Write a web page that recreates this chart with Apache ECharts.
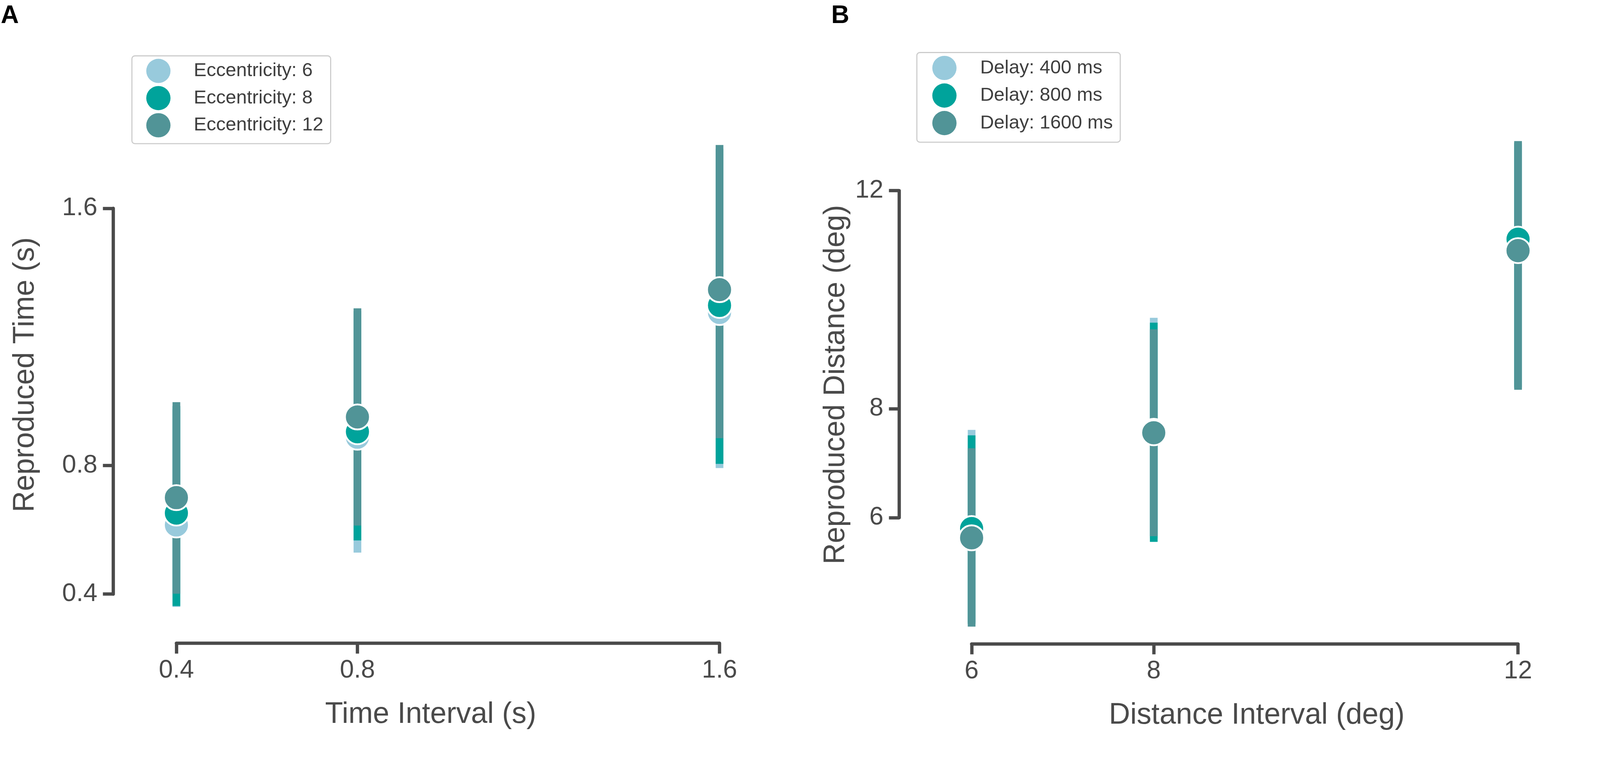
<!DOCTYPE html>
<html>
<head>
<meta charset="utf-8">
<script src="https://cdn.jsdelivr.net/npm/echarts@6/dist/echarts.min.js"></script>
<style>
html,body{margin:0;padding:0;background:#fff;overflow:hidden;}
#chart{width:100vw;height:100vh;}
</style>
</head>
<body>
<div id="chart"></div>
<script>
// ---------- Panel A data ----------
const timeIntervals = [0.4, 0.8, 1.6];
const timeTicks = [0.4, 0.8, 1.6];
const eccLabels = ['Eccentricity: 6', 'Eccentricity: 8', 'Eccentricity: 12'];
const timeMeanE6  = [0.615, 0.888, 1.276];
const timeMeanE8  = [0.652, 0.905, 1.298];
const timeMeanE12 = [0.700, 0.951, 1.347];
const timeLowE6   = [0.360, 0.529, 0.792];
const timeHighE6  = [0.975, 1.270, 1.770];
const timeLowE8   = [0.363, 0.567, 0.805];
const timeHighE8  = [0.985, 1.280, 1.785];
const timeLowE12  = [0.401, 0.613, 0.885];
const timeHighE12 = [0.997, 1.289, 1.797];

// ---------- Panel B data ----------
const distIntervals = [6, 8, 12];
const distTicks = [6, 8, 12];
const distYTicks = [6, 8, 12];
const delayLabels = ['Delay: 400 ms', 'Delay: 800 ms', 'Delay: 1600 ms'];
const distMeanD400  = [5.72, 7.570, 11.00];
const distMeanD800  = [5.80, 7.585, 11.11];
const distMeanD1600 = [5.63, 7.558, 10.90];
const distLowD400   = [4.08, 5.620, 8.40];
const distHighD400  = [7.61, 9.668, 12.85];
const distLowD800   = [4.05, 5.555, 8.38];
const distHighD800  = [7.51, 9.577, 12.88];
const distLowD1600  = [4.00, 5.660, 8.347];
const distHighD1600 = [7.274, 9.456, 12.91];

const colors = ['#98cadc', '#00a39b', '#519497'];
const FONT = '"Liberation Sans", Arial, Helvetica, sans-serif';
const AXIS_COLOR = '#4a4a4a';

// layout designed for a 4354 x 1987 canvas; scale to the real viewport
const S = Math.min(window.innerWidth / 4354, window.innerHeight / 1987);
const px = v => v * S;
const pad = a => a.map(px);

function errSeries(name, gridIdx, xs, lo, hi, color) {
  return {
    type: 'custom', name: name, xAxisIndex: gridIdx, yAxisIndex: gridIdx,
    z: 2, silent: true,
    data: xs.map((x, i) => [x, lo[i], hi[i]]),
    encode: { x: 0, y: [1, 2] },
    renderItem: function (params, api) {
      const x = api.value(0);
      const p1 = api.coord([x, api.value(1)]);
      const p2 = api.coord([x, api.value(2)]);
      return {
        type: 'line',
        shape: { x1: p1[0], y1: p1[1], x2: p2[0], y2: p2[1] },
        style: { stroke: color, lineWidth: px(21), lineCap: 'butt' }
      };
    }
  };
}
function pointSeries(name, gridIdx, xs, ys, color) {
  return {
    type: 'scatter', name: name, xAxisIndex: gridIdx, yAxisIndex: gridIdx,
    z: 5, clip: false, symbol: 'circle', symbolSize: px(68),
    itemStyle: { color: color, borderColor: '#ffffff', borderWidth: px(5), opacity: 1 },
    data: xs.map((x, i) => [x, ys[i]])
  };
}
function xAxisCfg(gridIdx, ticks, name, offset, namePad) {
  return {
    type: 'value', gridIndex: gridIdx, min: ticks[0], max: ticks[ticks.length - 1],
    position: 'bottom', offset: px(offset),
    axisLine: { show: true, lineStyle: { color: AXIS_COLOR, width: px(9) } },
    axisTick: { show: true, length: px(28), inside: false, customValues: ticks, lineStyle: { color: AXIS_COLOR, width: px(9) } },
    axisLabel: { show: true, customValues: ticks, margin: px(40), fontSize: px(69), color: AXIS_COLOR, fontFamily: FONT },
    splitLine: { show: false },
    name: name, nameLocation: 'middle', nameGap: px(155),
    nameTextStyle: { fontSize: px(80), color: AXIS_COLOR, fontFamily: FONT, padding: pad(namePad) }
  };
}
function yAxisCfg(gridIdx, ticks, name, offset, nameGap, namePad) {
  return {
    type: 'value', gridIndex: gridIdx, min: ticks[0], max: ticks[ticks.length - 1],
    position: 'left', offset: px(offset),
    axisLine: { show: true, lineStyle: { color: AXIS_COLOR, width: px(9) } },
    axisTick: { show: true, length: px(28), inside: false, customValues: ticks, lineStyle: { color: AXIS_COLOR, width: px(9) } },
    axisLabel: { show: true, customValues: ticks, margin: px(43), fontSize: px(69), color: AXIS_COLOR, fontFamily: FONT },
    splitLine: { show: false },
    name: name, nameLocation: 'middle', nameGap: px(nameGap),
    nameTextStyle: { fontSize: px(80), color: AXIS_COLOR, fontFamily: FONT, padding: pad(namePad) }
  };
}
function legendCfg(names, left, top, gap, padding, textPad) {
  return {
    data: names, orient: 'vertical', left: px(left), top: px(top),
    itemWidth: px(66), itemHeight: px(66), itemGap: px(gap), padding: pad(padding),
    borderColor: '#cccccc', borderWidth: px(3), borderRadius: px(8), backgroundColor: '#ffffff',
    itemStyle: { borderWidth: 0 },
    textStyle: { fontSize: px(52), color: '#3f3f3f', fontFamily: FONT, padding: pad(textPad) },
    selectedMode: false
  };
}

const option = {
  animation: false,
  backgroundColor: '#ffffff',
  title: [
    { text: 'A', left: px(2), top: px(10), padding: 0, textStyle: { fontSize: px(68), fontWeight: 'bold', color: '#000', fontFamily: FONT } },
    { text: 'B', left: px(2262), top: px(10), padding: 0, textStyle: { fontSize: px(68), fontWeight: 'bold', color: '#000', fontFamily: FONT } }
  ],
  legend: [
    legendCfg(eccLabels, 359, 152, 8, [8, 20, 17, 39], [0, 0, 0, 58]),
    legendCfg(delayLabels, 2495, 143, 9, [9, 20, 19, 42], [0, 0, 0, 59])
  ],
  grid: [
    { left: px(480), top: px(567), width: px(1478), height: px(1050), containLabel: false },
    { left: px(2644), top: px(519), width: px(1487), height: px(890), containLabel: false }
  ],
  xAxis: [
    xAxisCfg(0, timeTicks, 'Time Interval (s)', 134, [0, 94, 0, 0]),
    xAxisCfg(1, distTicks, 'Distance Interval (deg)', 344, [0, 0, 0, 65])
  ],
  yAxis: [
    yAxisCfg(0, timeTicks, 'Reproduced Time (s)', 172, 199, [0, 0, 0, 144]),
    yAxisCfg(1, distYTicks, 'Reproduced Distance (deg)', 197, 132, [0, 166, 0, 0])
  ],
  series: [
    errSeries('ci-e6', 0, timeIntervals, timeLowE6, timeHighE6, colors[0]),
    errSeries('ci-e8', 0, timeIntervals, timeLowE8, timeHighE8, colors[1]),
    errSeries('ci-e12', 0, timeIntervals, timeLowE12, timeHighE12, colors[2]),
    pointSeries(eccLabels[0], 0, timeIntervals, timeMeanE6, colors[0]),
    pointSeries(eccLabels[1], 0, timeIntervals, timeMeanE8, colors[1]),
    pointSeries(eccLabels[2], 0, timeIntervals, timeMeanE12, colors[2]),
    errSeries('ci-d400', 1, distIntervals, distLowD400, distHighD400, colors[0]),
    errSeries('ci-d800', 1, distIntervals, distLowD800, distHighD800, colors[1]),
    errSeries('ci-d1600', 1, distIntervals, distLowD1600, distHighD1600, colors[2]),
    pointSeries(delayLabels[0], 1, distIntervals, distMeanD400, colors[0]),
    pointSeries(delayLabels[1], 1, distIntervals, distMeanD800, colors[1]),
    pointSeries(delayLabels[2], 1, distIntervals, distMeanD1600, colors[2])
  ]
};
const chart = echarts.init(document.getElementById('chart'), null, { renderer: 'canvas' });
chart.setOption(option);
</script>
</body>
</html>
